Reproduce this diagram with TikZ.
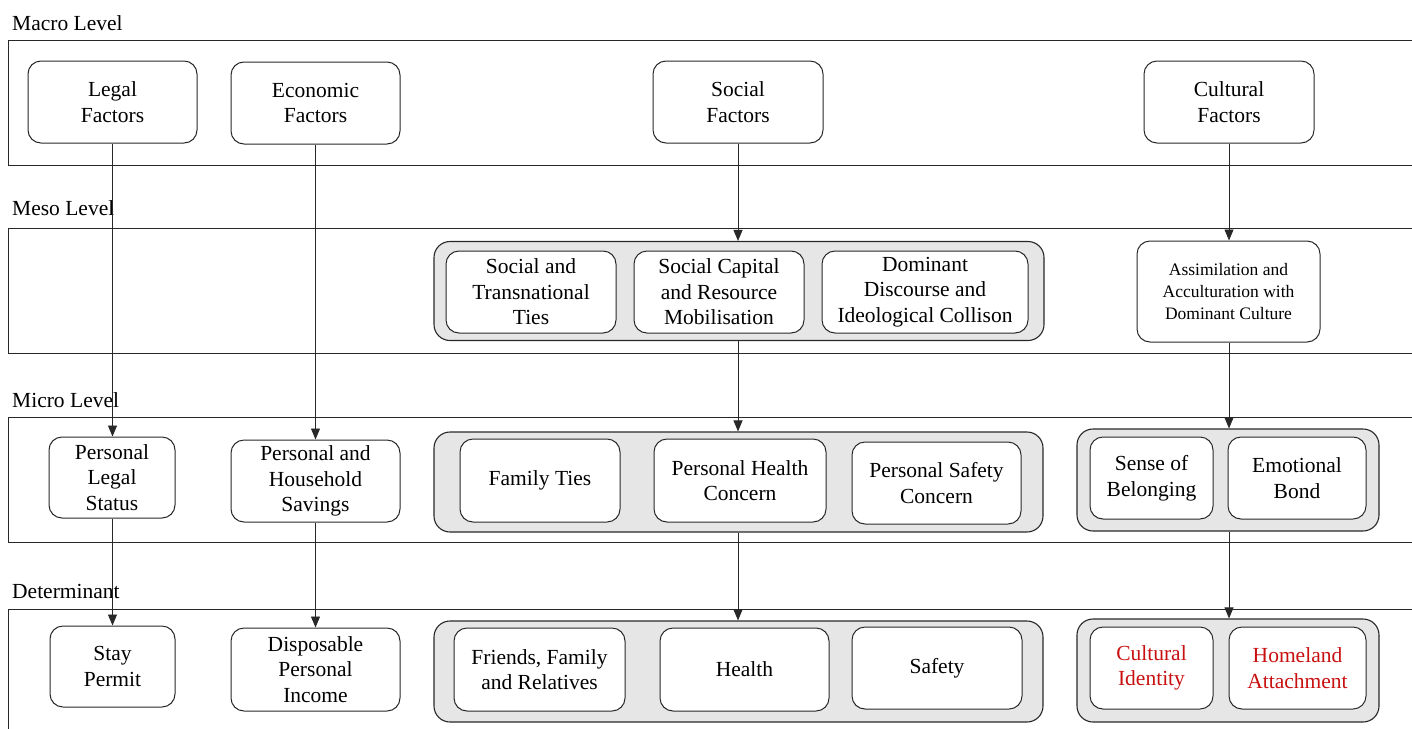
\documentclass[tikz,border=0pt]{standalone}
\usepackage{fontspec}
\setmainfont{Liberation Serif}
\usetikzlibrary{arrows.meta}
\definecolor{edge}{RGB}{40,40,40}
\definecolor{groupfill}{RGB}{230,230,230}
\definecolor{keyred}{RGB}{200,16,16}
\tikzset{
  levelbox/.style={draw=edge, line width=1pt},
  levelname/.style={anchor=base west, inner sep=0pt, font=\fontsize{21.5}{26}\selectfont},
  groupbox/.style={draw=edge, line width=1.1pt, fill=groupfill, rounded corners=16pt, inner sep=0pt},
  factor/.style={draw=edge, line width=1pt, fill=white, rounded corners=13pt,
    align=center, inner sep=0pt, font=\fontsize{21.5}{25.5}\selectfont},
  smalltext/.style={font=\fontsize{17.5}{22}\selectfont},
  flow/.style={draw=edge, line width=0.9pt, -{Triangle[length=11pt,width=9pt]}},
}
\begin{document}
\begin{tikzpicture}[x=1pt, y=-1pt]
\useasboundingbox (0,0) rectangle (1412,728);
\begin{scope}
\clip (0,0) rectangle (1412,728);

% level bands (open to the right and bottom)
\draw[levelbox] (8,40) rectangle (1430,165);
\draw[levelbox] (8,228) rectangle (1430,353);
\draw[levelbox] (8,417) rectangle (1430,542);
\draw[levelbox] (8,609) rectangle (1430,740);

\node[levelname] (lmacro) at (12,30) {Macro Level};
\node[levelname] (lmeso)  at (12,215) {Meso Level};
\node[levelname] (lmicro) at (12,407) {Micro Level};
\node[levelname] (ldet)   at (12,598) {Determinant};

% grouping panels
\node[groupbox, minimum width=610, minimum height=99]  (mgrp)  at (739,291) {};
\node[groupbox, minimum width=609, minimum height=100] (migrp) at (738.5,482) {};
\node[groupbox, minimum width=302, minimum height=102] (cgrp)  at (1228,480) {};
\node[groupbox, minimum width=609, minimum height=101] (dgrp)  at (738.5,671.5) {};
\node[groupbox, minimum width=302, minimum height=103] (dcgrp) at (1228,670.5) {};

% macro level
\node[factor, minimum width=169, minimum height=82] (legal)    at (112.5,102) {Legal\\Factors};
\node[factor, minimum width=169, minimum height=82] (econ)     at (315.5,103) {Economic\\Factors};
\node[factor, minimum width=170, minimum height=82] (social)   at (738,102)   {Social\\Factors};
\node[factor, minimum width=170, minimum height=82] (cultural) at (1229,102)  {Cultural\\Factors};

% meso level
\node[factor, minimum width=170, minimum height=82] (ties)  at (531,292) {Social and\\Transnational\\Ties};
\node[factor, minimum width=170, minimum height=82] (cap)   at (719,292) {Social Capital\\and Resource\\Mobilisation};
\node[factor, minimum width=206, minimum height=82] (disc)  at (925,292) {Dominant\\Discourse and\\Ideological Collison};
\node[factor, smalltext, minimum width=183, minimum height=101] (assim) at (1228.5,291.5) {Assimilation and\\Acculturation with\\Dominant Culture};

% micro level
\node[factor, minimum width=126, minimum height=81] (pls)   at (112,477.5)  {Personal\\Legal\\Status};
\node[factor, minimum width=169, minimum height=82] (sav)   at (315.5,481)  {Personal and\\Household\\Savings};
\node[factor, minimum width=160, minimum height=83] (fam)   at (540,480.5)  {Family Ties};
\node[factor, minimum width=172, minimum height=83] (phc)   at (740,480.5)  {Personal Health\\Concern};
\node[factor, minimum width=169, minimum height=82] (psc)   at (936.5,483)  {Personal Safety\\Concern};
\node[factor, minimum width=123, minimum height=82] (sob)   at (1151.5,478) {Sense of\\Belonging};
\node[factor, minimum width=138, minimum height=82] (emo)   at (1297,478)   {Emotional\\Bond};

% determinants
\node[factor, minimum width=125, minimum height=81] (stay)  at (112.5,666.5) {Stay\\Permit};
\node[factor, minimum width=169, minimum height=83] (disp)  at (315.5,669.5) {Disposable\\Personal\\Income};
\node[factor, minimum width=171, minimum height=83] (fri)   at (539.5,669.5) {Friends, Family\\and Relatives};
\node[factor, minimum width=169, minimum height=83] (hea)   at (744.5,669.5) {Health};
\node[factor, minimum width=170, minimum height=82] (saf)   at (937,668)     {Safety};
\node[factor, minimum width=123, minimum height=82, text=keyred] (cid) at (1151.5,668) {Cultural\\Identity};
\node[factor, minimum width=137, minimum height=82, text=keyred] (hom) at (1297.5,668) {Homeland\\Attachment};

% legal chain
\draw[flow] (legal.south) -- (legal.south |- pls.north);
\draw[flow] (legal.south |- pls.south) -- (legal.south |- stay.north);
% economic chain
\draw[flow] (econ.south) -- (econ.south |- sav.north);
\draw[flow] (econ.south |- sav.south) -- (econ.south |- disp.north);
% social chain
\draw[flow] (social.south) -- (social.south |- mgrp.north);
\draw[flow] (social.south |- mgrp.south) -- (social.south |- migrp.north);
\draw[flow] (social.south |- migrp.south) -- (social.south |- dgrp.north);
% cultural chain
\draw[flow] (cultural.south) -- (cultural.south |- assim.north);
\draw[flow] (cultural.south |- assim.south) -- (cultural.south |- cgrp.north);
\draw[flow] (cultural.south |- cgrp.south) -- (cultural.south |- dcgrp.north);
\end{scope}
\end{tikzpicture}
\end{document}
